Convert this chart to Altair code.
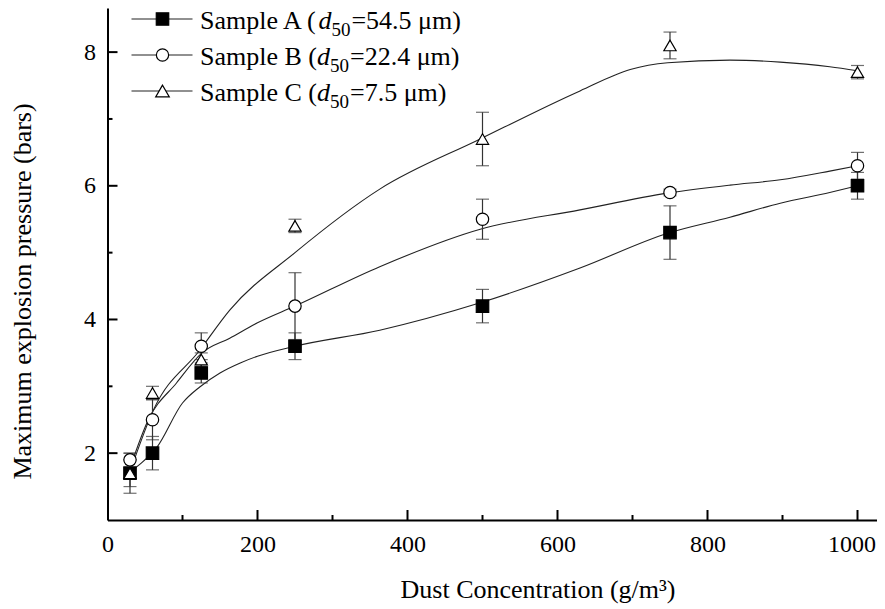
import altair as alt
import pandas as pd

# ---------------- data ----------------
conc = [30, 60, 125, 250, 500, 750, 1000]
samples = ["Sample A", "Sample B", "Sample C"]
d50_labels = ["54.5", "22.4", "7.5"]

a_mean = [1.7, 2.0, 3.2, 3.6, 4.2, 5.3, 6.0]
a_err = [0.2, 0.25, 0.15, 0.2, 0.25, 0.4, 0.2]
b_mean = [1.9, 2.5, 3.6, 4.2, 5.5, 5.9, 6.3]
b_err = [0.1, 0.3, 0.2, 0.5, 0.3, 0.05, 0.2]
c_mean = [1.7, 2.9, 3.4, 5.4, 6.7, 8.1, 7.7]
c_err = [0.3, 0.1, 0.1, 0.1, 0.4, 0.2, 0.1]

# fitted curves as drawn in the picture
fit_a_x = [30, 45, 66, 100, 123, 150, 177, 200, 250, 363, 497, 630, 747, 830, 897, 963, 1000]
fit_a_y = [1.72, 1.85, 2.09, 2.75, 2.99, 3.2, 3.35, 3.45, 3.6, 3.84, 4.25, 4.77, 5.29, 5.53, 5.74, 5.9, 6.0]
fit_b_x = [30, 54, 92, 126, 163, 200, 250, 363, 497, 630, 747, 830, 897, 963, 1000]
fit_b_y = [1.78, 2.49, 3.05, 3.5, 3.72, 3.95, 4.2, 4.79, 5.35, 5.64, 5.89, 6.01, 6.09, 6.22, 6.3]
fit_c_x = [30, 61, 123, 163, 250, 363, 497, 630, 697, 747, 830, 897, 963, 1000]
fit_c_y = [1.72, 2.64, 3.54, 4.14, 5.0, 5.95, 6.7, 7.42, 7.74, 7.84, 7.88, 7.85, 7.78, 7.72]

x_major = [200, 400, 600, 800, 1000]
x_minor = [100, 300, 500, 700, 900]
x_labels = [0, 200, 400, 600, 800, 1000]
y_major = [2, 4, 6, 8]
y_minor = [3, 5, 7]

# ---------------- tables ----------------
rows = []
for s, m, e in zip(samples, [a_mean, b_mean, c_mean], [a_err, b_err, c_err]):
    for x, v, er in zip(conc, m, e):
        rows.append({"conc": x, "value": v, "lo": v - er, "hi": v + er, "sample": s})
pts = pd.DataFrame(rows)

frows = []
for s, fx, fy in zip(samples, [fit_a_x, fit_b_x, fit_c_x], [fit_a_y, fit_b_y, fit_c_y]):
    for x, y in zip(fx, fy):
        frows.append({"conc": x, "value": y, "sample": s})
fits = pd.DataFrame(frows)

FONT = "Liberation Serif"
W, H = 769, 512
xscale = alt.Scale(domain=[0, 1025.33], nice=False, zero=False)
yscale = alt.Scale(domain=[1, 8.66], nice=False, zero=False)

shape_scale = alt.Scale(domain=samples, range=["square", "circle", "triangle-up"])
fill_scale = alt.Scale(domain=samples, range=["black", "white", "white"])
size_scale = alt.Scale(domain=samples, range=[155, 150, 185])

last_label = "datum.value == %d" % x_labels[-1]
x_axis = alt.Axis(
    values=x_labels, format="d", ticks=False, grid=False, labelPadding=12, labelFontSize=24,
    labelFont=FONT, labelColor="black", domainColor="black", domainWidth=2,
    labelAlign={"condition": {"test": last_label, "value": "right"}, "value": "center"},
    labelOffset={"condition": {"test": last_label, "value": 18}, "value": 0},
    title="Dust Concentration (g/m³)", titleFont=FONT, titleFontSize=26,
    titleFontWeight="normal", titleColor="black", titleX=430, titleY=77,
    titleBaseline="alphabetic", titleAlign="center", labelFlush=False,
)
y_axis = alt.Axis(
    values=y_major, format="d", ticks=False, grid=False, labelPadding=12, labelFontSize=24,
    labelFont=FONT, labelColor="black", domainColor="black", domainWidth=2,
    title="Maximum explosion pressure (bars)", titleFont=FONT, titleFontSize=26,
    titleFontWeight="normal", titleColor="black", titleX=-77, titleY=283,
    titleBaseline="alphabetic", titleAlign="center", titleAngle=270, labelFlush=False,
)


def X(field):
    return alt.X(field, scale=xscale, axis=x_axis)


def Y(field):
    return alt.Y(field, scale=yscale, axis=y_axis)


curves = alt.Chart(fits).mark_line(interpolate="monotone", color="#222", strokeWidth=1.1).encode(
    x=X("conc:Q"), y=Y("value:Q"), detail="sample:N",
)

err = alt.Chart(pts).mark_rule(color="#333", strokeWidth=1.2).encode(
    x=X("conc:Q"), y=Y("lo:Q"), y2="hi:Q",
)
cap_lo = alt.Chart(pts).mark_tick(color="#333", orient="horizontal", size=13, thickness=1.2).encode(
    x=X("conc:Q"), y=Y("lo:Q"),
)
cap_hi = alt.Chart(pts).mark_tick(color="#333", orient="horizontal", size=13, thickness=1.2).encode(
    x=X("conc:Q"), y=Y("hi:Q"),
)

markers = alt.Chart(pts).mark_point(stroke="black", strokeWidth=1.2, opacity=1, fillOpacity=1).encode(
    x=X("conc:Q"), y=Y("value:Q"),
    shape=alt.Shape("sample:N", scale=shape_scale, legend=None),
    fill=alt.Fill("sample:N", scale=fill_scale, legend=None),
    size=alt.Size("sample:N", scale=size_scale, legend=None),
)


# inward ticks
def xticks(vals, length):
    return alt.Chart(pd.DataFrame({"conc": vals})).mark_rule(color="black", strokeWidth=2).encode(
        x=X("conc:Q"), y=alt.value(H), y2=alt.value(H - length),
    )


def yticks(vals, length):
    return alt.Chart(pd.DataFrame({"value": vals})).mark_rule(color="black", strokeWidth=2).encode(
        y=Y("value:Q"), x=alt.value(0), x2=alt.value(length),
    )


tick_layers = [xticks(x_major, 10), xticks(x_minor, 5), yticks(y_major, 10), yticks(y_minor, 5)]

# ---------------- custom legend ----------------
METRICS = {' ': 250, '(': 333, ')': 333, '.': 250, '=': 564, 'A': 722, 'B': 667, 'C': 667,
           'S': 556, 'a': 444, 'e': 444, 'l': 278, 'm': 778, 'p': 500, 'μ': 576, 'd': 500}


def twidth(s, size):
    return sum(METRICS.get(ch, 500) for ch in s) * size / 1000.0


LF = 26
SUBF = 19
legend_layers = []
shapes = ["square", "circle", "triangle-up"]
fills = ["black", "white", "white"]
sizes = [155, 150, 185]
for i, (name, d50) in enumerate(zip(samples, d50_labels)):
    ly = 11 + 36 * i
    base = ly + 10
    legend_layers.append(
        alt.Chart(pd.DataFrame({"s": [name]})).mark_rule(color="#222", strokeWidth=1.1).encode(
            x=alt.value(24), x2=alt.value(85), y=alt.value(ly))
    )
    legend_layers.append(
        alt.Chart(pd.DataFrame({"s": [name]})).mark_point(
            shape=shapes[i], fill=fills[i], stroke="black", strokeWidth=1.2, opacity=1,
            fillOpacity=1, size=sizes[i]).encode(x=alt.value(55), y=alt.value(ly))
    )
    parts = [
        (name + " (", LF, "normal", 0),
        ("d", LF, "italic", 0),
        ("50", SUBF, "normal", 7),
        ("=" + d50 + " μm)", LF, "normal", 0),
    ]
    xpos = 92.5
    for txt, fs, style, dy in parts:
        legend_layers.append(
            alt.Chart(pd.DataFrame({"t": [txt]})).mark_text(
                font=FONT, fontSize=fs, fontStyle=style, align="left", baseline="alphabetic",
                color="black").encode(x=alt.value(xpos), y=alt.value(base + dy), text="t:N")
        )
        xpos += twidth(txt, fs) + (1 if txt == "50" else 0)

chart = alt.layer(curves, err, cap_lo, cap_hi, markers, *tick_layers, *legend_layers).properties(
    width=W, height=H,
    autosize=alt.AutoSizeParams(type="none"),
    padding={"left": 99.5, "top": 0, "right": 0, "bottom": 89},
).configure(background="white").configure_view(strokeWidth=0)

chart.save("out.html", embed_options={"renderer": "svg", "actions": False})
